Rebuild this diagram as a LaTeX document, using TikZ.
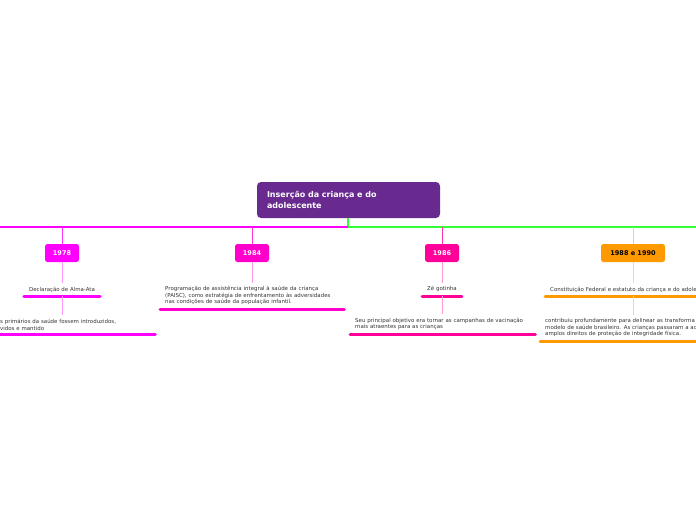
\documentclass[tikz,border=0pt]{standalone}
\usepackage{fontspec}
\setmainfont{DejaVu Sans}
\usetikzlibrary{positioning}
\definecolor{titlepurple}{HTML}{682A8E}
\definecolor{textgray}{HTML}{333333}
\definecolor{pinkA}{HTML}{FF00FF}
\definecolor{pinkB}{HTML}{FF00CC}
\definecolor{pinkC}{HTML}{FF0099}
\definecolor{orangeD}{HTML}{FF9900}
\definecolor{greenline}{HTML}{33FF33}

\begin{document}
\begin{tikzpicture}[
    x=1pt, y=-1pt,
    every node/.style={font=\fontsize{5.45}{6.6}\selectfont, text=textgray, inner sep=0pt},
    title/.style={rectangle, rounded corners=4pt, fill=titlepurple, text=white,
        font=\fontsize{8}{11}\selectfont\bfseries, minimum width=183pt, minimum height=36pt,
        text width=163pt, align=left},
    year/.style={rectangle, rounded corners=2.5pt, text=white,
        font=\fontsize{6.5}{8}\selectfont\bfseries, minimum height=18pt, minimum width=34pt},
    lbl/.style={inner xsep=5pt, inner ysep=3.7pt, anchor=south},
    note/.style={inner xsep=5pt, inner ysep=3.7pt, align=left, anchor=south west},
    hubline/.style={line width=1.6pt},
    stem/.style={line width=1pt},
    bar/.style={line width=3pt, line cap=round}
]
\useasboundingbox (0,0) rectangle (696,520);

% central topic
\node[title] (title) at (348.5,200) {Inserção da criança e do\\adolescente};
\coordinate (hub) at (348,227);
\coordinate (lend) at (0,227);
\coordinate (rend) at (696,227);
\draw[hubline, greenline] (title.south -| hub) -- (hub) -- (rend);
\draw[hubline, pinkA] (hub) -- (lend);

% years
\node[year, fill=pinkA] (y78) at (62,253) {1978};
\node[year, fill=pinkB] (y84) at (252,253) {1984};
\node[year, fill=pinkC] (y86) at (442,253) {1986};
\node[year, fill=orangeD, text=black, minimum width=64pt] (y88) at (633,253) {1988 e 1990};

\draw[stem, pinkA!80] (y78.north) -- (y78.north |- hub);
\draw[stem, pinkB!80] (y84.north) -- (y84.north |- hub);
\draw[stem, pinkC!80] (y86.north) -- (y86.north |- hub);
\draw[stem, orangeD!50] (y88.north) -- (y88.north |- hub);

% 1978
\node[lbl] (l78) at (62,296) {Declaração de Alma-Ata};
\node[note, text width=150pt] (n78) at (-5,334) {s primários da saúde fossem introduzidos,\\vidos e mantido};
\draw[stem, pinkA!40] (y78.south) -- (l78.north);
\draw[bar, pinkA] (l78.south west) -- (l78.south east);
\draw[stem, pinkA!40] (l78.south) -- (l78.south |- n78.north);
\draw[bar, pinkA] (n78.south west) -- (n78.south east);

% 1984
\node[note, text width=174pt] (n84) at (160,309) {Programação de assistência integral à saúde da criança\\(PAISC), como estratégia de enfrentamento às adversidades\\nas condições de saúde da população infantil.};
\draw[stem, pinkB!40] (y84.south) -- (y84.south |- n84.north);
\draw[bar, pinkB] (n84.south west) -- (n84.south east);

% 1986
\node[lbl] (l86) at (442,296) {Zé gotinha};
\node[note, text width=175pt] (n86) at (350,334) {Seu principal objetivo era tornar as campanhas de vacinação\\mais atraentes para as crianças};
\draw[stem, pinkC!40] (y86.south) -- (l86.north);
\draw[bar, pinkC] (l86.south west) -- (l86.south east);
\draw[stem, pinkC!40] (l86.south) -- (l86.south |- n86.north);
\draw[bar, pinkC] (n86.south west) -- (n86.south east);

% 1988 e 1990
\node[note, text width=200pt] (l88) at (545,296) {Constituição Federal e estatuto da criança e do adole};
\node[note, text width=200pt] (n88) at (540,341) {contribuiu profundamente para delinear as transforma\\modelo de saúde brasileiro. As crianças passaram a ac\\amplos direitos de proteção de integridade física.};
\draw[stem, orangeD!40] (y88.south) -- (y88.south |- l88.north);
\draw[bar, orangeD] (l88.south west) -- (l88.south east);
\draw[stem, orangeD!40] (y88.south |- l88.south) -- (y88.south |- n88.north);
\draw[bar, orangeD] (n88.south west) -- (n88.south east);
\end{tikzpicture}
\end{document}
